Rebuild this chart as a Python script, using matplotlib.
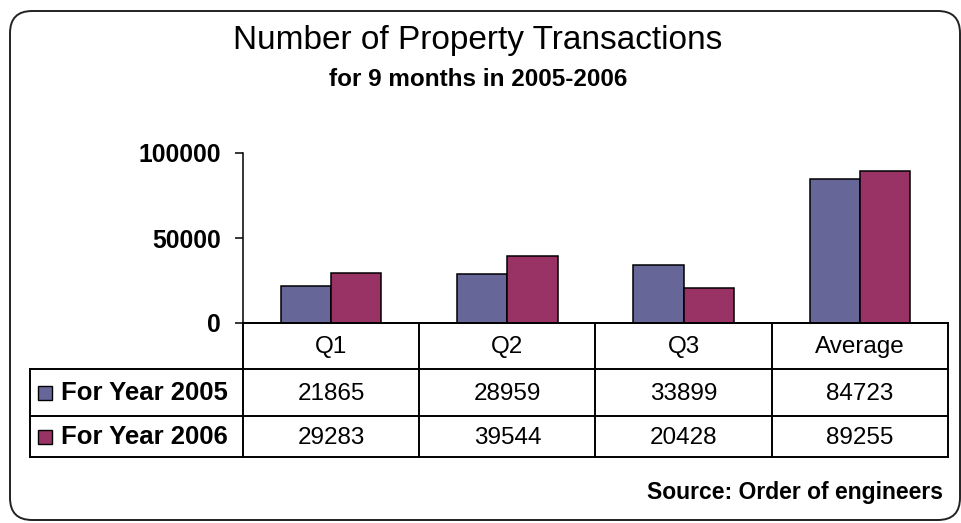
import matplotlib
matplotlib.use("Agg")
import matplotlib.pyplot as plt
from matplotlib.patches import FancyBboxPatch, Rectangle
from matplotlib.lines import Line2D
from matplotlib.transforms import blended_transform_factory
import numpy as np

plt.rcParams['font.family'] = ['Liberation Sans', 'DejaVu Sans']

# ---- data ----
categories = ["Q1", "Q2", "Q3", "Average"]
series_names = ["For Year 2005", "For Year 2006"]
values_2005 = [21865, 28959, 33899, 84723]
values_2006 = [29283, 39544, 20428, 89255]
yticks = [0, 50000, 100000]
ytick_labels = ["0", "50000", "100000"]
title = "Number of Property Transactions"
subtitle = "for 9 months in 2005-2006"
source = "Source: Order of engineers"

colors = ["#666699", "#993366"]

W, H = 962, 523
fig = plt.figure(figsize=(W / 100, H / 100), dpi=100)
fig.patch.set_facecolor("white")

def fx(px):
    return px / W

def fy(py):
    return 1 - py / H

# rounded border
border = FancyBboxPatch((fx(10), fy(520)), fx(950), (509) / H,
                        boxstyle="round,pad=0,rounding_size=0.023",
                        transform=fig.transFigure, fill=False,
                        edgecolor="#222222", linewidth=1.4,
                        mutation_aspect=W / H)
fig.patches.append(border)

# axes placement (pixels)
ax_left, ax_right, ax_top, ax_bottom = 243, 948, 153, 323
ax = fig.add_axes([fx(ax_left), fy(ax_bottom), fx(ax_right - ax_left),
                   (ax_bottom - ax_top) / H])
ax.set_facecolor("none")

x = np.arange(len(categories))
bw = 1 / 3.5
ax.bar(x - bw / 2, values_2005, bw, color=colors[0], edgecolor="black",
       linewidth=1.1, zorder=3)
ax.bar(x + bw / 2, values_2006, bw, color=colors[1], edgecolor="black",
       linewidth=1.1, zorder=3)

ax.set_xlim(-0.5, len(categories) - 0.5)
ax.set_ylim(0, 100000)
ax.set_yticks(yticks)
ax.set_yticklabels(ytick_labels, fontsize=17.8, fontweight="bold")
ax.tick_params(axis="y", direction="out", length=6, width=1.1,
               pad=10, colors="black")
ax.set_xticks([])
for s in ["top", "right"]:
    ax.spines[s].set_visible(False)
ax.spines["left"].set_linewidth(1.1)
ax.spines["bottom"].set_linewidth(1.1)

# ---- data table ----
lw = 1.4
trans = blended_transform_factory(ax.transData, fig.transFigure)
row_y = [323, 369, 416, 457]
table_left = 30

def hline(x0px, x1px, ypx):
    fig.lines.append(Line2D([fx(x0px), fx(x1px)], [fy(ypx), fy(ypx)],
                            transform=fig.transFigure, color="black",
                            linewidth=lw))

def vline_px(xpx, y0, y1):
    fig.lines.append(Line2D([fx(xpx), fx(xpx)], [fy(y0), fy(y1)],
                            transform=fig.transFigure, color="black",
                            linewidth=lw))

# horizontal lines
hline(ax_left, ax_right, row_y[0])
for yy in row_y[1:]:
    hline(table_left, ax_right, yy)
# vertical lines between categories (data coordinates)
for b in np.arange(len(categories) + 1) - 0.5:
    fig.lines.append(Line2D([b, b], [fy(row_y[0]), fy(row_y[-1])],
                            transform=trans, color="black", linewidth=lw,
                            clip_on=False))
vline_px(table_left, row_y[1], row_y[-1])

# header labels
for i, c in enumerate(categories):
    fig.text(0, 0, c, transform=trans, fontsize=17.5, ha="center",
             va="center").set_position((i, fy((row_y[0] + row_y[1]) / 2 + 1)))

# rows
for r, (name, vals) in enumerate(zip(series_names, [values_2005, values_2006])):
    yc = (row_y[r + 1] + row_y[r + 2]) / 2
    fig.patches.append(Rectangle((fx(38), fy(yc + 7)), fx(14), 14 / H,
                                 transform=fig.transFigure,
                                 facecolor=colors[r], edgecolor="black",
                                 linewidth=1.0))
    fig.text(fx(61), fy(yc + 1), name, fontsize=18.5, fontweight="bold",
             ha="left", va="center")
    for i, v in enumerate(vals):
        t = fig.text(0, 0, str(v), transform=trans, fontsize=17.5,
                     ha="center", va="center")
        t.set_position((i, fy(yc + 1)))

# titles
fig.text(fx(478), fy(41), title, fontsize=24, ha="center", va="center")
fig.text(fx(478), fy(79), subtitle, fontsize=17.5, fontweight="bold",
         ha="center", va="center")
fig.text(fx(943), fy(493), source, fontsize=16.5, fontweight="bold",
         ha="right", va="center")

fig.savefig("out.png", dpi=100, facecolor="white")
